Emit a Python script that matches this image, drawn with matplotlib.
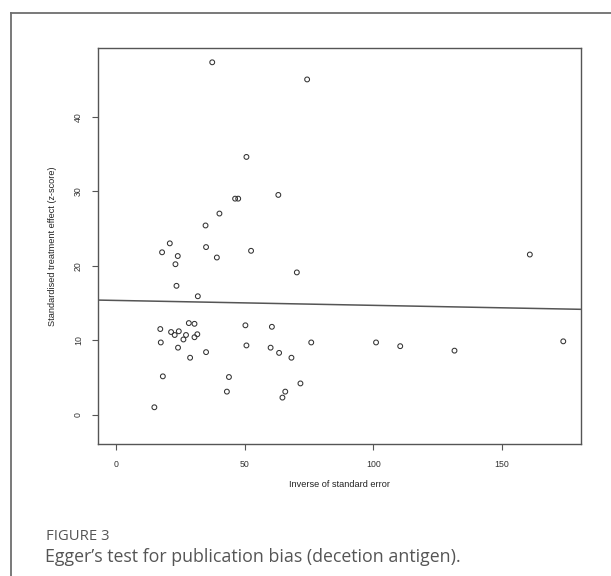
import matplotlib
matplotlib.use("Agg")
import matplotlib.pyplot as plt
from matplotlib.lines import Line2D

# inverse of standard error (precision) and standardised effect (z-score)
precision = [37.4, 74.3, 50.7, 46.3, 47.5, 63.1, 40.2, 34.8, 20.9, 17.9,
             35.0, 24.0, 39.2, 52.5, 23.1, 70.3, 23.5, 31.8, 28.3, 30.5,
             17.2, 50.3, 60.6, 21.4, 24.4, 22.8, 27.2, 31.6, 30.5, 26.2,
             17.4, 75.9, 24.1, 50.7, 60.1, 63.4, 35.0, 28.8, 68.2, 18.2,
             43.9, 71.7, 43.1, 65.8, 64.7, 14.9, 160.9, 101.1, 110.5, 131.6,
             173.9]
zscore = [47.3, 45.0, 34.6, 29.0, 29.0, 29.5, 27.0, 25.4, 23.0, 21.8,
          22.5, 21.3, 21.1, 22.0, 20.2, 19.1, 17.3, 15.9, 12.3, 12.2,
          11.5, 12.0, 11.8, 11.1, 11.2, 10.7, 10.7, 10.8, 10.4, 10.1,
          9.7, 9.7, 9.0, 9.3, 9.0, 8.3, 8.4, 7.65, 7.65, 5.15,
          5.06, 4.2, 3.1, 3.1, 2.3, 1.0, 21.5, 9.7, 9.2, 8.6,
          9.85]

# Egger regression line
intercept = 15.34
slope = -0.0066

x_ticks = [0, 50, 100, 150]
y_ticks = [0, 10, 20, 30, 40]

W, H = 611, 576
fig = plt.figure(figsize=(W / 100, H / 100), dpi=100)
fig.patch.set_facecolor("white")

# outer frame (top and left edges only, as cropped in the page)
frame_col = "#6e6e6e"
fig.add_artist(Line2D([11 / W, 1.0], [1 - 12.7 / H, 1 - 12.7 / H],
                      color=frame_col, lw=1.3, transform=fig.transFigure))
fig.add_artist(Line2D([11 / W, 11 / W], [0.0, 1 - 12.7 / H],
                      color=frame_col, lw=1.3, transform=fig.transFigure))

ax = fig.add_axes([98.3 / W, 1 - 444.3 / H, (580.5 - 98.3) / W, (444.3 - 47.7) / H])
ax.scatter(precision, zscore, s=12, facecolors="none", edgecolors="#333333",
           linewidths=0.75, zorder=3)

ax.set_xlim(-6.9, 180.6)
ax.set_ylim(-3.97, 49.26)
xs = ax.get_xlim()
ax.plot(xs, [intercept + slope * xs[0], intercept + slope * xs[1]],
        color="#555555", lw=1.1)

for sp in ax.spines.values():
    sp.set_color("#555555")
    sp.set_linewidth(1.0)

font = "Liberation Sans"
ax.set_xticks(x_ticks)
ax.set_yticks(y_ticks)
ax.set_xticklabels([str(t) for t in x_ticks], fontsize=6.3, family=font, color="#333333")
ax.set_yticklabels([str(t) for t in y_ticks], fontsize=6.3, family=font, color="#333333",
                   rotation=90, va="center")
ax.tick_params(direction="out", length=4.5, width=0.8, color="#555555", pad=6.5)
ax.set_xlabel("Inverse of standard error", fontsize=6.6, family=font,
              color="#222222", labelpad=8)
ax.set_ylabel("Standardised treatment effect (z-score)", fontsize=6.6, family=font,
              color="#222222", labelpad=12)

fig.text(45.5 / W, 1 - 537 / H, "FIGURE 3", fontsize=10.7, family="Open Sans",
         color="#555555", va="center", ha="left")
fig.text(45 / W, 1 - 557 / H, "Egger\u2019s test for publication bias (decetion antigen).",
         fontsize=12.8, family="Open Sans", color="#555555", va="center", ha="left")

fig.savefig("out.png", dpi=100)
